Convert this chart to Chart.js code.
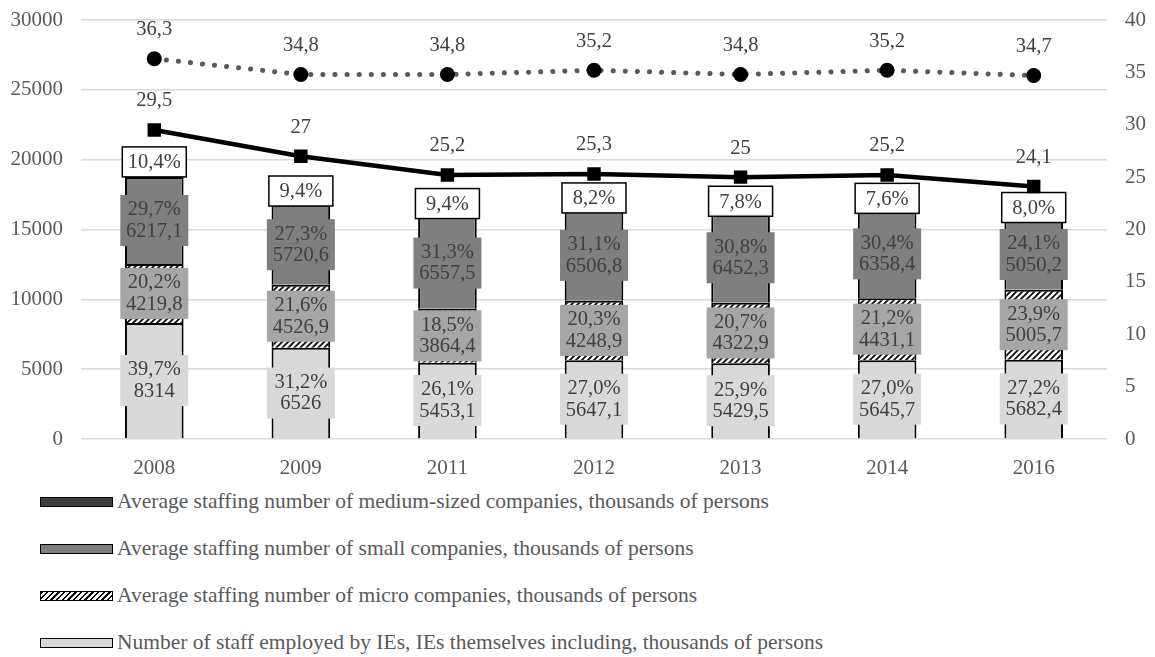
<!DOCTYPE html>
<html>
<head>
<meta charset="utf-8">
<script src="https://cdn.jsdelivr.net/npm/chart.js@4/dist/chart.umd.min.js"></script>
<style>
  body { margin: 0; background: #fff; font-family: "Liberation Serif", serif; }
  #wrap { position: relative; width: 1155px; height: 478px; }
  #legend { padding-left: 40px; color: #595959; font-size: 21.5px; }
  .row { height: 47px; display: flex; align-items: center; }
  .mark { width: 71px; height: 8px; border: 1px solid #000; margin-right: 4px; }
</style>
</head>
<body>
<div id="wrap"><canvas id="chart"></canvas></div>
<div id="legend"></div>
<script>
const years = ['2008', '2009', '2011', '2012', '2013', '2014', '2016'];

// staffing, thousands of persons
const staffIE = [8314, 6526, 5453.1, 5647.1, 5429.5, 5645.7, 5682.4];
const staffMicro = [4219.8, 4526.9, 3864.4, 4248.9, 4322.9, 4431.1, 5005.7];
const staffSmall = [6217.1, 5720.6, 6557.5, 6506.8, 6452.3, 6358.4, 5050.2];
const staffMedium = [2178, 1966, 1964, 1715, 1635, 1589, 1671];

// shares shown in the boxes
const pctIE = ['39,7%', '31,2%', '26,1%', '27,0%', '25,9%', '27,0%', '27,2%'];
const pctMicro = ['20,2%', '21,6%', '18,5%', '20,3%', '20,7%', '21,2%', '23,9%'];
const pctSmall = ['29,7%', '27,3%', '31,3%', '31,1%', '30,8%', '30,4%', '24,1%'];
const pctMedium = ['10,4%', '9,4%', '9,4%', '8,2%', '7,8%', '7,6%', '8,0%'];

// right axis lines
const dottedLine = [36.3, 34.8, 34.8, 35.2, 34.8, 35.2, 34.7];
const solidLine = [29.5, 27, 25.2, 25.3, 25, 25.2, 24.1];

const legendNames = [
  'Average staffing number of medium-sized companies, thousands of persons',
  'Average staffing number of small companies, thousands of persons',
  'Average staffing number of micro companies, thousands of persons',
  'Number of staff employed by IEs, IEs themselves including, thousands of persons'
];

const FONT = '"Liberation Serif", serif';
const LABEL_FONT = '20.5px ' + FONT;

function makeHatch() {
  const c = document.createElement('canvas');
  c.width = 6; c.height = 6;
  const g = c.getContext('2d');
  g.fillStyle = '#fff';
  g.fillRect(0, 0, 6, 6);
  g.strokeStyle = '#000';
  g.lineWidth = 1.7;
  g.beginPath();
  g.moveTo(0, 6); g.lineTo(6, 0);
  g.moveTo(-3, 3); g.lineTo(3, -3);
  g.moveTo(3, 9); g.lineTo(9, 3);
  g.stroke();
  return g.createPattern(c, 'repeat');
}

// label boxes over bar segments: [dataset index, texts, values, box fill]
const segLabels = [
  [0, pctIE, staffIE, '#d9d9d9'],
  [1, pctMicro, staffMicro, '#a6a6a6'],
  [2, pctSmall, staffSmall, '#7f7f7f']
];

const fmt = v => String(v).replace('.', ',');

const boxLabels = {
  id: 'boxLabels',
  afterDatasetDraw(chart, args) {
    if (args.index !== 0) return;
    const ctx = chart.ctx;
    ctx.save();
    ctx.font = LABEL_FONT;
    ctx.textAlign = 'center';
    ctx.textBaseline = 'middle';
    segLabels.forEach(([di, pcts, vals, fill]) => {
      chart.getDatasetMeta(di).data.forEach((bar, i) => {
        const p = bar.getProps(['x', 'y', 'base'], true);
        const cy = (p.y + p.base) / 2;
        ctx.fillStyle = fill;
        ctx.fillRect(p.x - 34, cy - 25.5, 68, 51);
        ctx.fillStyle = '#404040';
        ctx.fillText(pcts[i], p.x, cy - 10.5);
        ctx.fillText(fmt(vals[i]), p.x, cy + 11);
      });
    });
    chart.getDatasetMeta(3).data.forEach((bar, i) => {
      const p = bar.getProps(['x', 'y', 'base'], true);
      const cy = (p.y + p.base) / 2;
      ctx.fillStyle = '#fff';
      ctx.fillRect(p.x - 32, cy - 15, 64, 30);
      ctx.strokeStyle = '#000';
      ctx.lineWidth = 1.5;
      ctx.strokeRect(p.x - 32, cy - 15, 64, 30);
      ctx.fillStyle = '#404040';
      ctx.fillText(pctMedium[i], p.x, cy + 1);
    });
    ctx.restore();
  },
  afterDatasetsDraw(chart) {
    const ctx = chart.ctx;
    ctx.save();
    ctx.font = LABEL_FONT;
    ctx.textAlign = 'center';
    ctx.textBaseline = 'middle';
    ctx.fillStyle = '#404040';
    [4, 5].forEach(di => {
      const data = chart.data.datasets[di].data;
      chart.getDatasetMeta(di).data.forEach((pt, i) => {
        ctx.fillText(fmt(data[i]), pt.x, pt.y - 29);
      });
    });
    ctx.restore();
  }
};

const barBase = {
  type: 'bar',
  yAxisID: 'y',
  stack: 'staff',
  order: 1,
  borderColor: '#000',
  borderWidth: 2,
  barPercentage: 0.5,
  categoryPercentage: 0.8
};

const tickFont = { family: FONT, size: 21 };
const plain = v => String(v);

// fixed axis sizes, no extra padding from tick labels
const fixY = w => s => { s.width = w; s.paddingTop = 0; s.paddingBottom = 0; };

new Chart(document.getElementById('chart'), {
  data: {
    labels: years,
    datasets: [
      { ...barBase, label: legendNames[3], data: staffIE, backgroundColor: '#d9d9d9' },
      { ...barBase, label: legendNames[2], data: staffMicro, backgroundColor: makeHatch() },
      { ...barBase, label: legendNames[1], data: staffSmall, backgroundColor: '#7f7f7f' },
      { ...barBase, label: legendNames[0], data: staffMedium, backgroundColor: '#404040' },
      {
        type: 'line', yAxisID: 'y1', order: 0, data: dottedLine,
        borderColor: '#595959', borderWidth: 5, borderDash: [0.1, 12], borderCapStyle: 'round',
        pointStyle: 'circle', pointRadius: 7.5, pointBackgroundColor: '#000', pointBorderWidth: 0
      },
      {
        type: 'line', yAxisID: 'y1', order: 0, data: solidLine,
        borderColor: '#000', borderWidth: 4.5,
        pointStyle: 'rect', pointRadius: 9.5, pointBackgroundColor: '#000', pointBorderWidth: 0
      }
    ]
  },
  options: {
    responsive: true,
    maintainAspectRatio: false,
    animation: false,
    layout: { autoPadding: false, padding: { left: 0, right: 0, top: 20, bottom: 0 } },
    plugins: { legend: { display: false }, tooltip: { enabled: false } },
    scales: {
      x: {
        grid: { display: false },
        border: { display: false },
        ticks: { font: tickFont, color: '#595959', padding: 9 },
        afterFit: s => { s.height = 39; s.paddingLeft = 0; s.paddingRight = 0; }
      },
      y: {
        position: 'left',
        min: 0, max: 30000,
        grid: { color: '#d9d9d9', lineWidth: 1.5, drawTicks: false },
        border: { display: false },
        ticks: { stepSize: 5000, font: tickFont, color: '#595959', padding: 18, callback: plain },
        afterFit: fixY(81)
      },
      y1: {
        position: 'right',
        min: 0, max: 40,
        grid: { drawOnChartArea: false, drawTicks: false },
        border: { display: false },
        ticks: { stepSize: 5, font: tickFont, color: '#595959', padding: 18, callback: plain },
        afterFit: fixY(48)
      }
    }
  },
  plugins: [boxLabels]
});

// legend below the canvas
const legendFills = ['#404040', '#7f7f7f',
  'repeating-linear-gradient(135deg, #000 0 1.5px, #fff 1.5px 4px)', '#d9d9d9'];
const legendEl = document.getElementById('legend');
legendNames.forEach((name, i) => {
  const row = document.createElement('div');
  row.className = 'row';
  const mark = document.createElement('span');
  mark.className = 'mark';
  mark.style.background = legendFills[i];
  row.appendChild(mark);
  row.appendChild(document.createTextNode(name));
  legendEl.appendChild(row);
});
</script>
</body>
</html>
